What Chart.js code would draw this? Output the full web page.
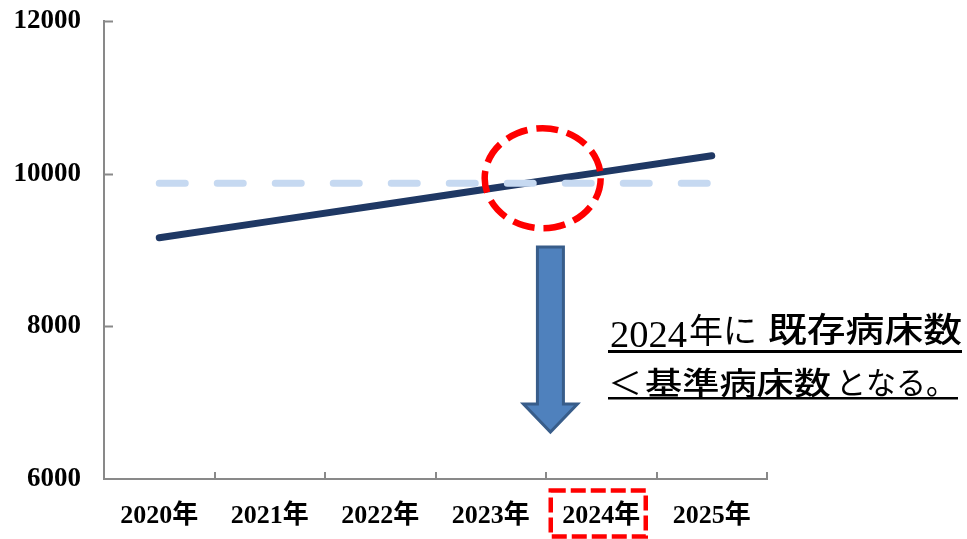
<!DOCTYPE html>
<html>
<head>
<meta charset="utf-8">
<script src="https://cdn.jsdelivr.net/npm/chart.js@4.4.1/dist/chart.umd.min.js"></script>
<style>
  html, body { margin: 0; padding: 0; background: #ffffff; }
  #wrap { width: 967px; height: 539px; position: relative; }
</style>
</head>
<body>
<div id="wrap"><canvas id="chart1"></canvas></div>
<script>
// 値は図から読み取り
var years = ['2020年', '2021年', '2022年', '2023年', '2024年', '2025年'];
var existingBeds = [9160, 9375, 9590, 9805, 10020, 10235];   // 既存病床数
var standardBeds = [9875, 9875, 9875, 9875, 9875, 9875];     // 基準病床数
var yTicks = [6000, 8000, 10000, 12000];

var axisGray = '#898989';
var red = '#FF0000';

// 注記 (x はカテゴリ番号, y は病床数)
var marks = {
  ellipse: { x: 3.47, y: 9940, rx: 58, ry: 50 },
  arrow: { x: 3.54, top: 9040, headTop: 6983, tip: 6616 },
  box: { x: 4 }
};

function fitText(ctx, str, x, y, w, font){
  ctx.font = font;
  var m = ctx.measureText(str).width;
  ctx.save();
  ctx.translate(x, y);
  ctx.scale(w / m, 1);
  ctx.fillText(str, 0, 0);
  ctx.restore();
}

var extras = {
  id: 'extras',
  afterDraw: function(chart){
    var ctx = chart.ctx;
    var xs = chart.scales.x, ys = chart.scales.y;
    var area = chart.chartArea;
    var step = (area.right - area.left) / years.length;

    // 目盛線 (内向き)
    ctx.save();
    ctx.strokeStyle = axisGray;
    ctx.lineWidth = 2;
    ctx.beginPath();
    yTicks.forEach(function(v){
      var py = Math.round(ys.getPixelForValue(v)) + 0.5;
      if (v === yTicks[0]) return;
      ctx.moveTo(area.left, py);
      ctx.lineTo(area.left + 9, py);
    });
    for (var i = 1; i <= years.length; i++){
      var px = Math.round(area.left + step * i);
      ctx.moveTo(px, area.bottom);
      ctx.lineTo(px, area.bottom - 7);
    }
    ctx.stroke();
    ctx.restore();

    // 赤い点線の楕円
    var e = marks.ellipse;
    ctx.save();
    ctx.strokeStyle = red;
    ctx.lineWidth = 6.5;
    ctx.setLineDash([22, 9]);
    ctx.beginPath();
    ctx.ellipse(xs.getPixelForValue(e.x), ys.getPixelForValue(e.y), e.rx, e.ry, 0, 0, Math.PI * 2);
    ctx.stroke();
    ctx.restore();

    // 下向き矢印
    var a = marks.arrow;
    var ax = xs.getPixelForValue(a.x);
    var yTop = ys.getPixelForValue(a.top), yHead = ys.getPixelForValue(a.headTop), yTip = ys.getPixelForValue(a.tip);
    ctx.save();
    ctx.fillStyle = '#4F81BD';
    ctx.strokeStyle = '#385D8A';
    ctx.lineWidth = 3;
    ctx.beginPath();
    ctx.moveTo(ax - 13, yTop);
    ctx.lineTo(ax + 13, yTop);
    ctx.lineTo(ax + 13, yHead);
    ctx.lineTo(ax + 27, yHead);
    ctx.lineTo(ax, yTip);
    ctx.lineTo(ax - 27, yHead);
    ctx.lineTo(ax - 13, yHead);
    ctx.closePath();
    ctx.fill();
    ctx.stroke();
    ctx.restore();

    // 2024年ラベルの点線枠
    var bx = xs.getPixelForValue(marks.box.x);
    ctx.save();
    ctx.strokeStyle = red;
    ctx.lineWidth = 4.5;
    ctx.setLineDash([15, 5]);
    ctx.strokeRect(bx - 50.5, 490.5, 95, 46);
    ctx.restore();

    // 注記テキスト
    ctx.save();
    ctx.fillStyle = '#000000';
    ctx.textBaseline = 'alphabetic';
    ctx.textAlign = 'left';
    fitText(ctx, '2024', 610, 347, 77, '37px "Liberation Serif"');
    fitText(ctx, '年に', 689, 343, 68, '34px "Noto Sans CJK JP"');
    fitText(ctx, '既存病床数', 768, 342, 194, '500 34px "Noto Sans CJK JP"');
    fitText(ctx, '＜', 608, 394, 34, '400 31px "Noto Sans CJK JP"');
    fitText(ctx, '基準病床数', 645, 394, 186, '500 31px "Noto Sans CJK JP"');
    fitText(ctx, 'となる。', 836, 394, 120, '400 31px "Noto Sans CJK JP"');
    ctx.fillRect(608, 350, 354, 3);
    ctx.fillRect(608, 397, 350, 2.5);
    ctx.restore();
  }
};

var datos = {
  type: 'line',
  data: {
    labels: years,
    datasets: [{
      label: '基準病床数',
      data: standardBeds,
      borderColor: '#C6D9F1',
      borderWidth: 7,
      borderDash: [26, 32],
      borderCapStyle: 'round',
      pointRadius: 0,
      tension: 0
    }, {
      label: '既存病床数',
      data: existingBeds,
      borderColor: '#1F3864',
      borderWidth: 7,
      borderCapStyle: 'round',
      pointRadius: 0,
      tension: 0
    }]
  },
  options: {
    responsive: true,
    maintainAspectRatio: false,
    animation: false,
    events: [],
    layout: { padding: { top: 21, right: 200, left: 0, bottom: 0 } },
    plugins: {
      legend: { display: false },
      tooltip: { enabled: false }
    },
    scales: {
      x: {
        offset: true,
        grid: { display: false, drawTicks: false },
        border: { display: true, color: axisGray, width: 2 },
        ticks: {
          color: '#000000',
          padding: 22,
          maxRotation: 0,
          font: { family: '"Liberation Serif", "Noto Sans CJK JP"', size: 26, weight: 'bold' }
        },
        afterFit: function(scale){ scale.height = 60; scale.paddingLeft = 0; scale.paddingRight = 0; }
      },
      y: {
        min: 6000,
        max: 12000,
        grid: { display: false, drawTicks: false },
        border: { display: true, color: axisGray, width: 2 },
        afterBuildTicks: function(scale){
          scale.ticks = yTicks.map(function(v){ return { value: v }; });
        },
        ticks: {
          color: '#000000',
          padding: 23,
          callback: function(v){ return String(v); },
          font: { family: '"Liberation Serif"', size: 27, weight: 'bold' }
        },
        afterFit: function(scale){ scale.width = 104; scale.paddingTop = 0; scale.paddingBottom = 0; }
      }
    }
  },
  plugins: [extras]
};

var canvas = document.getElementById('chart1').getContext('2d');
window.line = new Chart(canvas, datos);
</script>
</body>
</html>
